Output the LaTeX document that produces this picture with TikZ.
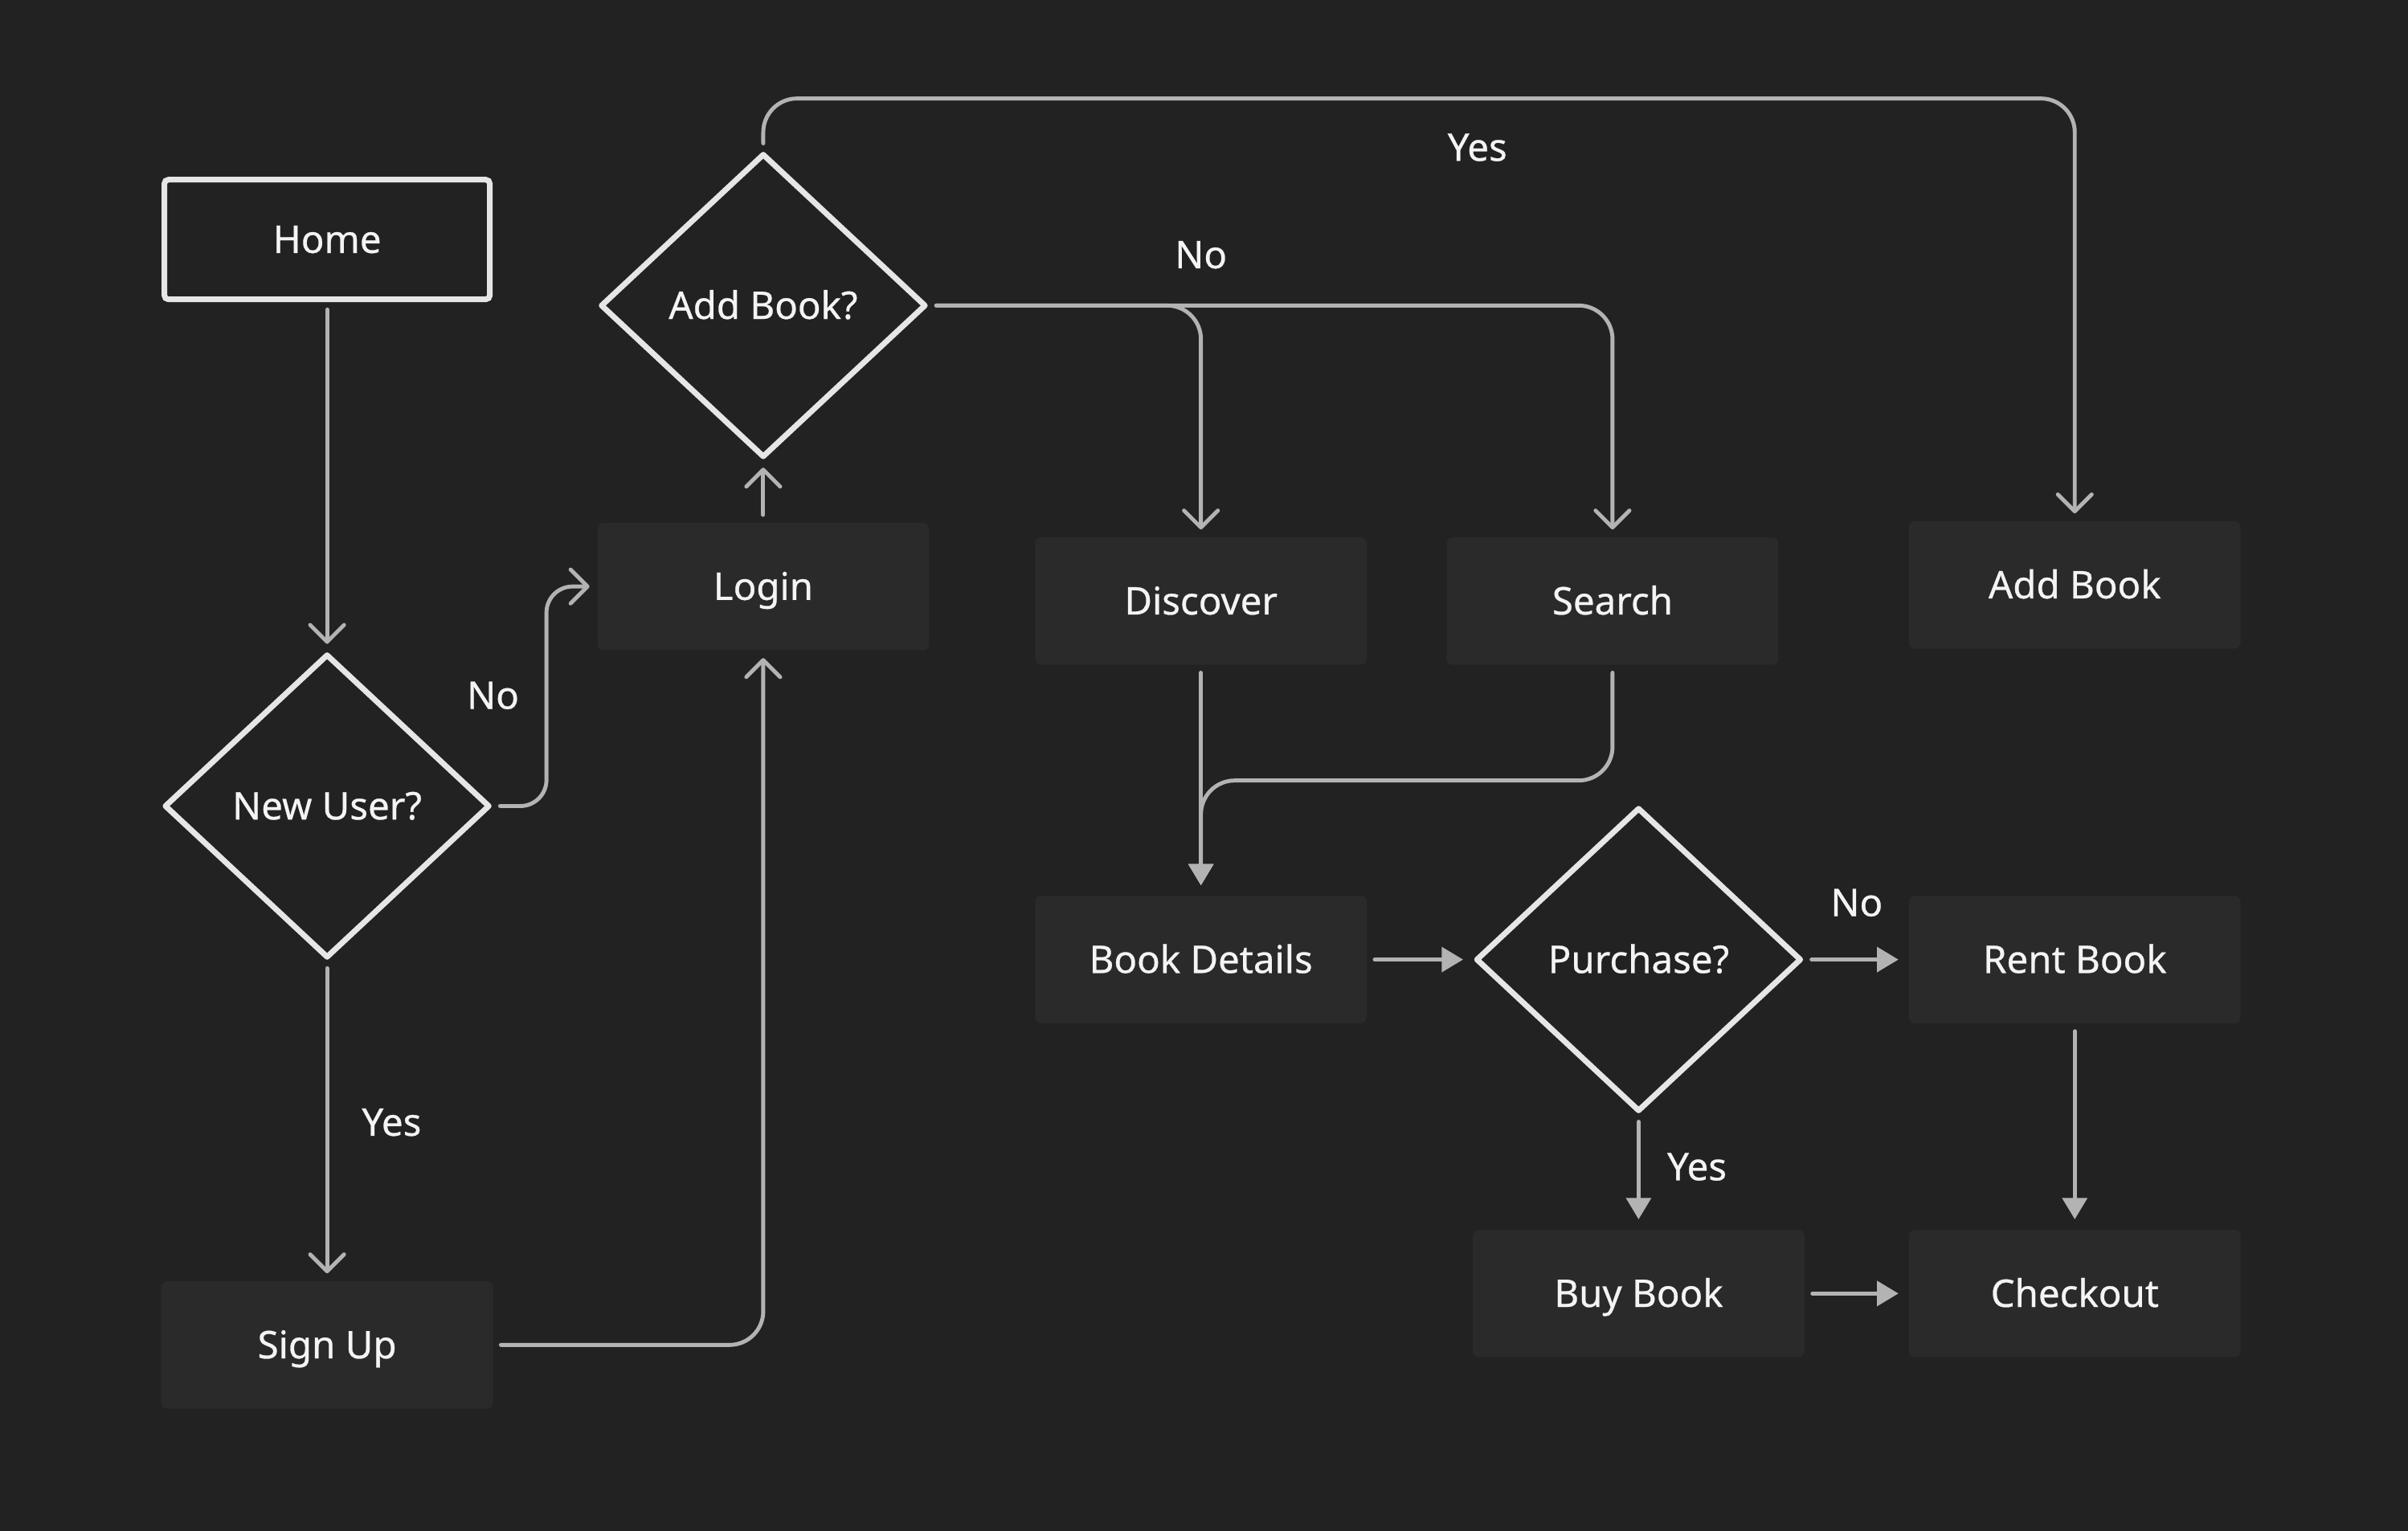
\documentclass[tikz,border=0pt]{standalone}
\usepackage{fontspec}
\setmainfont{Noto Sans}[FakeBold=0.6]
\usetikzlibrary{shapes.geometric,arrows.meta}
\definecolor{bg}{HTML}{222222}
\definecolor{boxfill}{HTML}{2A2A2A}
\definecolor{linec}{HTML}{B3B3B3}
\definecolor{outl}{HTML}{E6E6E6}
\definecolor{txt}{HTML}{F4F4F4}
\def\px{0.0191135cm}
\begin{document}
\begin{tikzpicture}[x=\px, y=-\px,
  every node/.style={text=txt, font=\fontsize{13.5}{16}\selectfont, text height=1.2em, text depth=0.25em},
  box/.style={rectangle, rounded corners=2.2pt, fill=boxfill, minimum width=216*\px, minimum height=83*\px, inner sep=0pt},
  homebox/.style={rectangle, rounded corners=1.5pt, draw=outl, line width=2pt, fill=bg, minimum width=212*\px, minimum height=78*\px, inner sep=0pt},
  decision/.style={diamond, draw=outl, line width=2pt, fill=bg, minimum width=212*\px, minimum height=198*\px, inner sep=0pt, line join=round},
  lbl/.style={inner sep=0pt},
  conn/.style={draw=linec, line width=1.4pt, line cap=round, line join=round, shorten <=2.6pt},
  openarr/.style={conn, shorten >=2.6pt, -{Straight Barb[length=6pt,width=12pt,round]}},
  fillarr/.style={conn, shorten >=3.5pt, -{Triangle[length=7.6pt,width=8.7pt]}}
]
\path[use as bounding box, fill=bg] (0,0) rectangle (1568,997.2);

% nodes
\node[homebox] (home) at (213,156) {Home};
\node[decision] (newuser) at (213,525) {New User?};
\node[box] (signup) at (213,876) {Sign Up};
\node[box] (login) at (497,382) {Login};
\node[decision] (addq) at (497,199) {Add Book?};
\node[box] (discover) at (782,391.5) {Discover};
\node[box] (search) at (1050,391.5) {Search};
\node[box] (addbook) at (1351,381) {Add Book};
\node[box] (details) at (782,625) {Book Details};
\node[decision] (purchase) at (1067,625) {Purchase?};
\node[box] (rent) at (1351,625) {Rent Book};
\node[box] (buy) at (1067,842.5) {Buy Book};
\node[box] (checkout) at (1351,842.5) {Checkout};

% labels
\node[lbl] (lno1) at (321,453) {No};
\node[lbl] (lyes1) at (255,731) {Yes};
\node[lbl] (lyes2) at (962,96) {Yes};
\node[lbl] (lno2) at (782,166) {No};
\node[lbl] (lno3) at (1209,588) {No};
\node[lbl] (lyes3) at (1105,760) {Yes};

% connectors
\draw[openarr] (home.south) -- (newuser.north);
\draw[openarr, rounded corners=17*\px] (newuser.east) -- ++(35,0) |- (login.west);
\draw[openarr] (newuser.south) -- (signup.north);
\draw[openarr, rounded corners=22*\px] (signup.east) -| (login.south);
\draw[openarr] (login.north) -- (addq.south);
\draw[openarr, rounded corners=22*\px] (addq.north) -- ++(0,-34) -| (addbook.north);
\draw[openarr, rounded corners=22*\px] (addq.east) -| (discover.north);
\draw[openarr, rounded corners=22*\px] (addq.east) -| (search.north);
\draw[fillarr] (discover.south) -- (details.north);
\draw[fillarr, rounded corners=22*\px] (search.south) -- ++(0,75) -| (details.north);
\draw[fillarr] (details.east) -- (purchase.west);
\draw[fillarr] (purchase.east) -- (rent.west);
\draw[fillarr] (purchase.south) -- (buy.north);
\draw[fillarr] (rent.south) -- (checkout.north);
\draw[fillarr] (buy.east) -- (checkout.west);
\end{tikzpicture}
\end{document}
